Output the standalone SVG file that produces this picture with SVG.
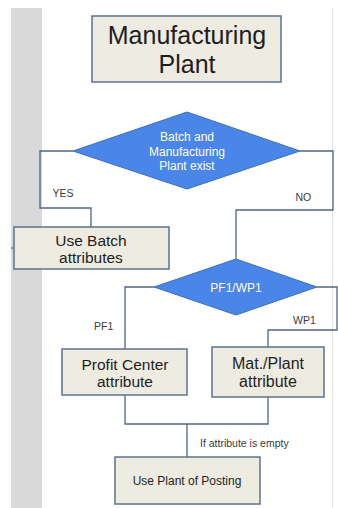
<svg xmlns="http://www.w3.org/2000/svg" width="338" height="508" viewBox="0 0 338 508">
<style>
.box{fill:#eeebe1;stroke:#5b7290;stroke-width:1.5}
.dia{fill:#4a86e8;stroke:#3d6fb8;stroke-width:1}
.con{fill:none;stroke:#4f6585;stroke-width:1.3}
.t{font-family:"Liberation Sans",Arial,sans-serif;fill:#1e1e1e;text-anchor:middle}
.w{font-family:"Liberation Sans",Arial,sans-serif;fill:#ffffff;text-anchor:middle;font-size:12px}
.lab{font-family:"Liberation Sans",Arial,sans-serif;fill:#3a3a3a;font-size:10.5px}
</style>
<rect x="0" y="0" width="338" height="508" fill="#ffffff"/>
<rect x="11" y="8" width="30" height="500" fill="#d9d9d9"/>
<line x1="41.5" y1="8" x2="41.5" y2="508" stroke="#c9d8f2" stroke-width="1"/>
<line x1="332.5" y1="8" x2="332.5" y2="508" stroke="#e4e4e4" stroke-width="1"/>
<line x1="11" y1="248" x2="15" y2="248" stroke="#555" stroke-width="1"/>
<g id="connectors">
<polyline class="con" points="73,151 40,151 40,208 91,208 91,227"/>
<polyline class="con" points="300,151 333,151 333,210 236,210 236,259"/>
<polyline class="con" points="154,287 125,287 125,349"/>
<polyline class="con" points="317,287 337,287 337,330 268,330 268,347"/>
<polyline class="con" points="125,395 125,424 268,424 268,397"/>
<line class="con" x1="187" y1="424" x2="187" y2="457"/>
<text class="lab" x="52.5" y="196.5">YES</text>
<text class="lab" x="295.5" y="200.5">NO</text>
<text class="lab" x="94" y="330">PF1</text>
<text class="lab" x="293" y="324">WP1</text>
<text class="lab" x="200" y="446.5" font-size="10.2">If attribute is empty</text>
</g>
<g id="title">
<rect class="box" x="92" y="16" width="189" height="66"/>
<text class="t" x="187" y="43.5" font-size="25">Manufacturing</text>
<text class="t" x="187" y="73" font-size="25">Plant</text>
</g>
<g id="decision1">
<polygon class="dia" points="187,112 300,151 187,189 73,151"/>
<text class="w" x="187" y="141">Batch and</text>
<text class="w" x="187" y="156">Manufacturing</text>
<text class="w" x="187" y="170">Plant exist</text>
</g>
<g id="useBatch">
<rect class="box" x="14" y="227" width="155" height="42"/>
<text class="t" x="91" y="245.5" font-size="15.5">Use Batch</text>
<text class="t" x="91" y="263" font-size="15.5">attributes</text>
</g>
<g id="decision2">
<polygon class="dia" points="236,259 317,287 236,315 154,287"/>
<text class="w" x="236" y="291.5">PF1/WP1</text>
</g>
<g id="profitCenter">
<rect class="box" x="62" y="349" width="125" height="46"/>
<text class="t" x="125" y="369.5" font-size="15.5">Profit Center</text>
<text class="t" x="125" y="387" font-size="15.5">attribute</text>
</g>
<g id="matPlant">
<rect class="box" x="212" y="347" width="112" height="50"/>
<text class="t" x="268" y="369" font-size="16">Mat./Plant</text>
<text class="t" x="268" y="386.5" font-size="16">attribute</text>
</g>
<g id="usePlant">
<rect class="box" x="115" y="457" width="145" height="47"/>
<text class="t" x="187" y="485" font-size="12">Use Plant of Posting</text>
</g>
</svg>
